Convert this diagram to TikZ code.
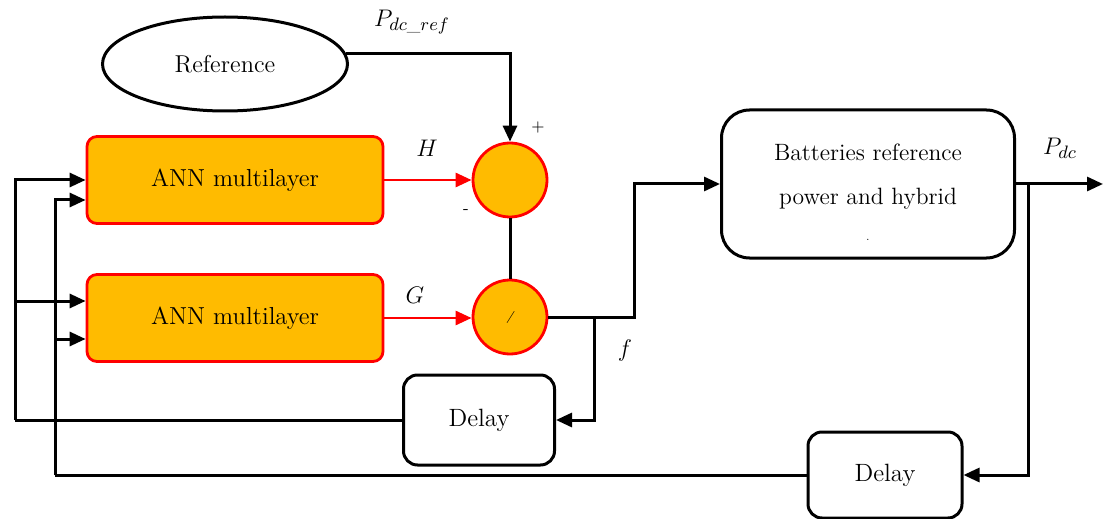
\documentclass[tikz,border=0pt]{standalone}
\usepackage{amsmath}
\usepackage{tikz}
\usetikzlibrary{arrows.meta,positioning,shapes.geometric}
\definecolor{annorange}{RGB}{255,187,0}
\tikzset{
  ctrl-ann/.style={draw=red, fill=annorange, rounded corners=5pt, line width=1.4pt,
    minimum width=148pt, minimum height=43.5pt, font=\fontsize{12.3}{14}\selectfont},
  ctrl-block/.style={draw=black, fill=white, rounded corners=7pt, line width=1.5pt,
    align=center, font=\fontsize{12.5}{22}\selectfont},
  ctrl-op/.style={circle, draw=red, fill=annorange, line width=1.4pt,
    minimum size=37pt, inner sep=0pt},
  ctrl-ref/.style={ellipse, draw=black, line width=1.5pt, minimum width=122.5pt,
    minimum height=47pt, font=\fontsize{12.2}{14}\selectfont},
  ctrl-wire/.style={draw=black, line width=1.5pt},
  ctrl-red/.style={draw=red, line width=1.4pt},
  ctrl-lbl/.style={font=\fontsize{12.5}{14}\selectfont, inner sep=1pt}
}
\begin{document}
\begin{tikzpicture}[x=0.5pt, y=-0.5pt, >={Triangle[length=8pt,width=7pt]}]
  \useasboundingbox (0,0) rectangle (1104,519);
  % blocks
  \node (ref) [ctrl-ref] at (225,64) {Reference};
  \node (ann1) [ctrl-ann] at (235,180) {ANN multilayer};
  \node (ann2) [ctrl-ann] at (235,318) {ANN multilayer};
  \node (sum) [ctrl-op] at (510,180) {};
  \node (div) [ctrl-op] at (510,317) {\fontsize{6}{6}\selectfont\itshape /};
  \node (bat) [ctrl-block, minimum width=146.5pt, minimum height=74pt,
    rounded corners=14pt, text height=57pt, font=\fontsize{11.8}{22}\selectfont] at (868,184)
    {Batteries reference\\power and hybrid\\[-4pt]{\tiny .}};
  \node (del1) [ctrl-block, minimum width=75.5pt, minimum height=45pt] at (479,420) {Delay};
  \node (del2) [ctrl-block, minimum width=77pt, minimum height=43pt] at (885,475) {Delay};
  % labels
  \node (pdcref-lbl) [ctrl-lbl] at (412,22) {$P_{dc\_ref}$};
  \node (plus-lbl) [font=\fontsize{8}{8}\selectfont] at (538,128) {+};
  \node (minus-lbl) [font=\fontsize{8}{8}\selectfont] at (466,212) {-};
  \node (h-lbl) [ctrl-lbl] at (427,148) {$H$};
  \node (g-lbl) [ctrl-lbl] at (415,295) {$G$};
  \node (f-lbl) [ctrl-lbl] at (625,350) {$f$};
  \node (pdc-lbl) [ctrl-lbl] at (1060,148) {$P_{dc}$};
  % taps and bends
  \coordinate (f-tap) at (594,317);
  \coordinate (f-bend) at (634,317);
  \coordinate (bus-in) at (15,420);
  \coordinate (bus-out) at (55,475);
  \path (bat.east) ++(12,0) coordinate (pdc-tap);
  \coordinate (pdc-end) at (1103,184);
  % connectors
  \draw[ctrl-wire, ->] (ref.5) -| (sum.north);
  \draw[ctrl-red, ->] (ann1.east) -- (sum.west);
  \draw[ctrl-red, ->] (ann2.east) -- (ann2.east -| div.west);
  \draw[ctrl-wire] (sum.south) -- (div.north);
  \draw[ctrl-wire, ->] (div.east) -- (f-bend) |- (bat.west);
  \draw[ctrl-wire, ->] (f-tap) |- (del1.east);
  \draw[ctrl-wire] (del1.west) -- (bus-in);
  \draw[ctrl-wire, ->] (bus-in) |- (ann1.west);
  \draw[ctrl-wire, ->] (bus-in) |- ([yshift=8.5pt]ann2.west);
  \draw[ctrl-wire, ->] (bat.east) -- (pdc-end);
  \draw[ctrl-wire, ->] (pdc-tap) |- (del2.east);
  \draw[ctrl-wire] (del2.west) -- (bus-out);
  \draw[ctrl-wire, ->] (bus-out) |- ([yshift=-10pt]ann1.west);
  \draw[ctrl-wire, ->] (bus-out) |- ([yshift=-10.5pt]ann2.west);
\end{tikzpicture}
\end{document}
